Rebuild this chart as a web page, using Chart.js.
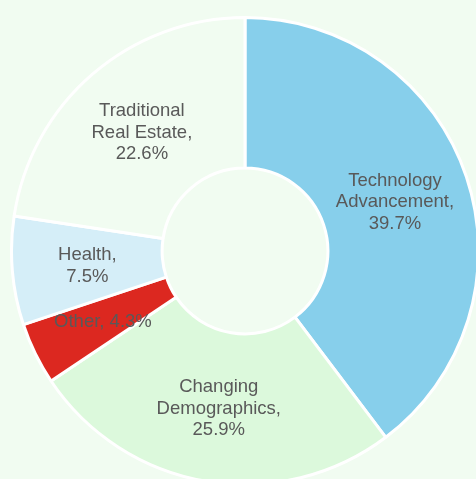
<!DOCTYPE html>
<html>
<head>
<meta charset="utf-8">
<script src="https://cdn.jsdelivr.net/npm/chart.js@4.4.0/dist/chart.umd.min.js"></script>
<style>
  html, body { margin: 0; padding: 0; width: 476px; height: 479px; overflow: hidden; background: #f1fcf1; }
  #wrap { position: absolute; left: 10px; top: 16px; width: 470px; height: 470px; }
</style>
</head>
<body>
<div id="wrap"><canvas id="donut" width="470" height="470"></canvas></div>
<script>
// slices, clockwise from 12 o'clock
let categories = ["Technology Advancement", "Changing Demographics", "Other", "Health", "Traditional Real Estate"];
let shares = [39.7, 25.9, 4.3, 7.5, 22.6];
let sliceColors = ["#87cfeb", "#dcf9dc", "#dc2820", "#d5eef8", "#f1fcf1"];
// how each label wraps on the chart
let labelLines = [
    ["Technology", "Advancement,"],
    ["Changing", "Demographics,"],
    [],
    ["Health,"],
    ["Traditional", "Real Estate,"]
];

// draws "name, value%" in the middle of each slice
const sliceLabels = {
    id: "sliceLabels",
    afterDatasetsDraw(chart) {
        const ctx = chart.ctx;
        const meta = chart.getDatasetMeta(0);
        ctx.save();
        ctx.font = "18.5px 'Liberation Sans', Arial, sans-serif";
        ctx.fillStyle = "#595959";
        ctx.textAlign = "center";
        ctx.textBaseline = "middle";
        meta.data.forEach((arc, i) => {
            const p = arc.tooltipPosition();
            let lines = labelLines[i].slice();
            let val = shares[i].toFixed(1) + "%";
            if (lines.length == 0) lines = [categories[i] + ", " + val];
            else lines.push(val);
            const lh = 21.5;
            let y0 = p.y + 1.5 - (lines.length - 1) * lh / 2;
            lines.forEach((t, k) => ctx.fillText(t, p.x, y0 + k * lh));
        });
        ctx.restore();
    }
};

var ctx = document.getElementById("donut").getContext("2d");
var myChart = new Chart(ctx, {
    type: "doughnut",
    data: {
        labels: categories,
        datasets: [{
            data: shares,
            backgroundColor: sliceColors,
            borderColor: "#ffffff",
            borderWidth: 3
        }]
    },
    options: {
        responsive: false,
        animation: false,
        devicePixelRatio: 1,
        cutout: "35.5%",
        layout: { padding: 0 },
        plugins: {
            legend: { display: false },
            tooltip: { enabled: false }
        }
    },
    plugins: [sliceLabels]
});
</script>
</body>
</html>
